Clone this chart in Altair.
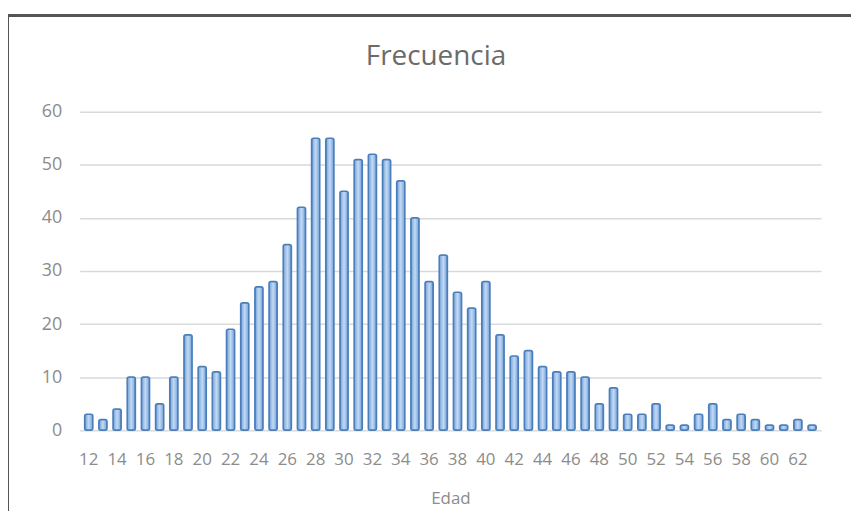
import altair as alt
import pandas as pd

ages = list(range(12, 64))
freq = [3, 2, 4, 10, 10, 5, 10, 18, 12, 11,
        19, 24, 27, 28, 35, 42, 55, 55, 45, 51,
        52, 51, 47, 40, 28, 33, 26, 23, 28, 18,
        14, 15, 12, 11, 11, 10, 5, 8, 3, 3,
        5, 1, 1, 3, 5, 2, 3, 2, 1, 1,
        2, 1]
x_tick_labels = list(range(12, 64, 2))
y_ticks = [0, 10, 20, 30, 40, 50, 60]
chart_title = "Frecuencia"

df = pd.DataFrame({"Edad": ages, "Frecuencia": freq})

W, H = 745, 320
FONT = "Open Sans"

bars = alt.Chart(df).mark_bar(
    color=alt.Gradient(
        gradient="linear", x1=0, x2=1, y1=0, y2=0,
        stops=[alt.GradientStop(color="#6f9fd8", offset=0),
               alt.GradientStop(color="#c4daf3", offset=0.5),
               alt.GradientStop(color="#6f9fd8", offset=1)]),
    stroke="#4a7ebb", strokeWidth=1.5, cornerRadius=2,
).encode(
    x=alt.X("Edad:O", title="Edad",
            scale=alt.Scale(paddingInner=0.42, paddingOuter=0.35),
            axis=alt.Axis(values=x_tick_labels, labelAngle=0, ticks=False, domain=False,
                          labelFontSize=17, labelColor="#8c8c8c", labelFont=FONT,
                          labelPadding=21, titleFontSize=17, titleColor="#8c8c8c",
                          titleFont=FONT, titleFontWeight="normal", titlePadding=24,
                          grid=False)),
    y=alt.Y("Frecuencia:Q", title=None,
            scale=alt.Scale(domain=[0, 60], nice=False),
            axis=alt.Axis(values=y_ticks, ticks=False, domain=False,
                          labelFontSize=18, labelColor="#8c8c8c", labelFont=FONT,
                          labelPadding=18, gridColor="#d9d9d9", gridWidth=1.5)),
)

title_mark = alt.Chart(pd.DataFrame({"t": [chart_title]})).mark_text(
    font=FONT, fontSize=28, color="#6b6b6b", align="center", baseline="alphabetic",
    clip=False,
).encode(text="t:N", x=alt.value(358), y=alt.value(-47))

frame_top = alt.Chart(df).mark_rule(color="#555555", strokeWidth=2.5, clip=False).encode(
    x=alt.value(-73), x2=alt.value(790), y=alt.value(-97))
frame_left = alt.Chart(df).mark_rule(color="#555555", strokeWidth=2.5, clip=False).encode(
    x=alt.value(-73), y=alt.value(-97), y2=alt.value(420))

chart = alt.layer(bars, title_mark, frame_top, frame_left).properties(
    width=W, height=H,
    autosize=alt.AutoSizeParams(type="none"),
    padding={"left": 72, "top": 103, "right": 30, "bottom": 80},
).configure_view(stroke=None)

chart.save("out.html", embed_options={"renderer": "svg", "actions": False})
